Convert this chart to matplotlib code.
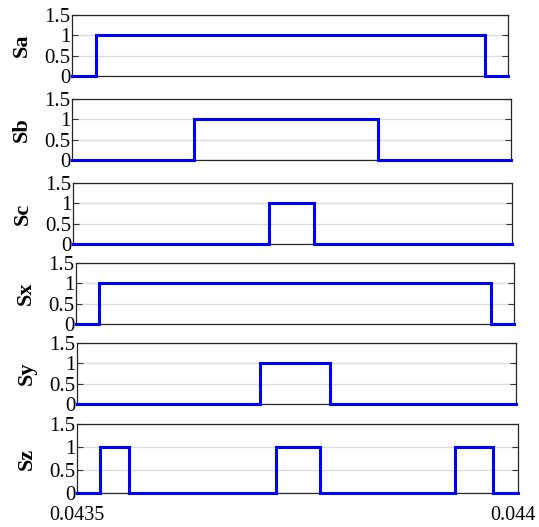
import numpy as np
import matplotlib.pyplot as plt
from matplotlib.transforms import ScaledTranslation

# switching signals over one PWM period
t_start = 0.0435
t_end = 0.044

names = ['Sa', 'Sb', 'Sc', 'Sx', 'Sy', 'Sz']
t_on = [
    [0.0435275],
    [0.0436390],
    [0.0437230],
    [0.0435260],
    [0.0437080],
    [0.0435260, 0.0437256, 0.0439286],
]
t_off = [
    [0.0439736],
    [0.0438485],
    [0.0437745],
    [0.0439737],
    [0.0437880],
    [0.0435590, 0.0437755, 0.0439717],
]

# axes boxes in pixels: left, width, top, bottom
boxes = [
    (72, 436, 15, 76),
    (72, 439, 99, 160),
    (73, 439, 183, 244),
    (76, 438, 263, 324),
    (77, 439, 343, 404),
    (77, 441, 424, 493),
]

W, H = 539, 527
plt.rcParams['font.family'] = ['Liberation Serif', 'DejaVu Serif']

fig = plt.figure(figsize=(W / 100, H / 100), dpi=100)


def pulse_train(ons, offs):
    t = [t_start]
    s = [0]
    for a, b in zip(ons, offs):
        t += [a, a, b, b]
        s += [0, 1, 1, 0]
    t.append(t_end)
    s.append(0)
    return np.array(t), np.array(s)


for i, name in enumerate(names):
    x0, w, y0, y1 = boxes[i]
    ax = fig.add_axes([x0 / W, 1 - y1 / H, w / W, (y1 - y0) / H])
    t, s = pulse_train(t_on[i], t_off[i])
    ax.plot(t, s, color='#0000ff', lw=2.2, clip_on=False, zorder=3,
            solid_joinstyle='miter')
    ax.set_xlim(t_start, t_end)
    ax.set_ylim(0, 1.5)
    ax.set_yticks([0, 0.5, 1, 1.5])
    ax.set_yticklabels(['0', '0.5', '1', '1.5'])
    ax.set_xticks([t_start, t_end])
    if i == len(names) - 1:
        ax.set_xticklabels(['0.0435', '0.044'])
    else:
        ax.set_xticklabels([])
    ax.grid(axis='y', color='#dcdcdc', lw=1.0)
    ax.tick_params(direction='in', right=True, top=False, length=4,
                   width=0.8, color='#333333', labelsize=15, pad=1)
    ax.tick_params(axis='x', length=0, pad=9, labelsize=14.5)
    for sp in ax.spines.values():
        sp.set_color('#262626')
        sp.set_linewidth(0.9)
    ax.set_ylabel(name, fontsize=16, fontweight='bold', labelpad=9)

# keep the right-hand time label inside the figure
last = ax.get_xticklabels()[-1]
last.set_transform(last.get_transform() + ScaledTranslation(-4 / 72, 0, fig.dpi_scale_trans))

fig.savefig('out.png', dpi=100)
